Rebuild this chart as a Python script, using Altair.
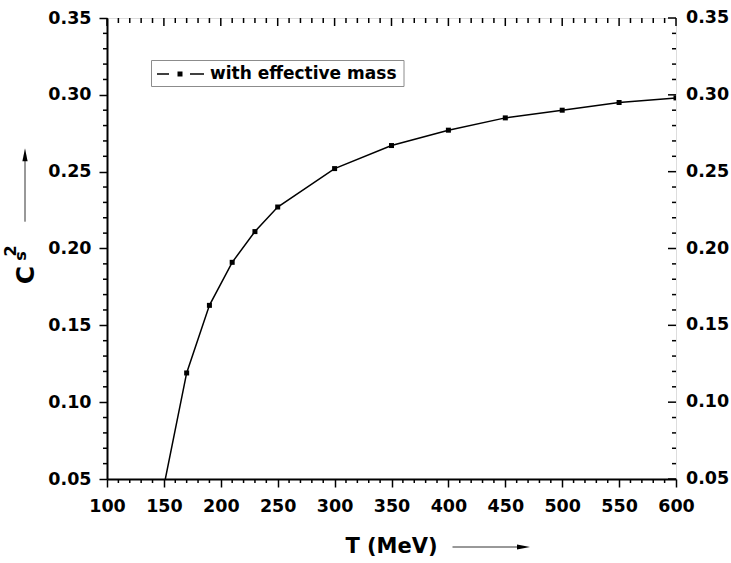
import altair as alt
import pandas as pd

# ---- data ----
T = [150, 170, 190, 210, 230, 250, 300, 350, 400, 450, 500, 550, 600]
cs2 = [0.0454, 0.119, 0.163, 0.191, 0.211, 0.227, 0.252, 0.267, 0.277, 0.285, 0.290, 0.295, 0.298]

x_major = [100, 150, 200, 250, 300, 350, 400, 450, 500, 550, 600]
x_minor = [v for v in range(110, 600, 10) if v % 50 != 0]
y_major = [0.05, 0.10, 0.15, 0.20, 0.25, 0.30, 0.35]
y_minor = [round(0.05 + 0.01 * i, 2) for i in range(1, 30) if i % 5 != 0]

legend_label = "with effective mass"
x_title = "T (MeV)"

W, H = 569, 461
FONT = "DejaVu Sans"

df = pd.DataFrame({"T": T, "cs2": cs2})
dxM = pd.DataFrame({"T": x_major})
dxm = pd.DataFrame({"T": x_minor})
dyM = pd.DataFrame({"cs2": y_major})
dym = pd.DataFrame({"cs2": y_minor})
one = pd.DataFrame({"a": [0]})

xs = alt.Scale(domain=[100, 600], nice=False, zero=False)
ys = alt.Scale(domain=[0.05, 0.35], nice=False, zero=False)

x_axis = alt.Axis(values=x_major, format="d", tickSize=8, tickWidth=1.5, tickColor="black",
                  domainWidth=2, domainColor="black", labelFont=FONT, labelFontWeight="bold",
                  labelFontSize=17.5, labelColor="black", labelPadding=10, labelFlush=False,
                  labelOverlap=False, grid=False, title=None)
y_axis = alt.Axis(values=y_major, format=".2f", tickSize=8, tickWidth=1.5, tickColor="black",
                  domainWidth=2, domainColor="black", labelFont=FONT, labelFontWeight="bold",
                  labelFontSize=17.5, labelColor="black", labelPadding=8, labelFlush=False,
                  labelOverlap=False, grid=False, title=None)

X = lambda: alt.X("T:Q", scale=xs, axis=x_axis)
Y = lambda: alt.Y("cs2:Q", scale=ys, axis=y_axis)

line = alt.Chart(df).mark_line(color="black", strokeWidth=1.5, clip=True).encode(x=X(), y=Y())
pts = alt.Chart(df).mark_point(shape="square", filled=True, color="black", size=25,
                               opacity=1, clip=True).encode(x=X(), y=Y())

def xrule(d, y0, y1):
    return alt.Chart(d).mark_rule(color="black", strokeWidth=1.5).encode(
        x=X(), y=alt.value(y0), y2=alt.value(y1))

def yrule(d, x0, x1):
    return alt.Chart(d).mark_rule(color="black", strokeWidth=1.5).encode(
        y=Y(), x=alt.value(x0), x2=alt.value(x1))

ticks = [
    xrule(dxm, H, H + 4),      # bottom minor (outward)
    xrule(dxM, 0, 8),          # top major (inward)
    xrule(dxm, 0, 5),          # top minor (inward)
    yrule(dym, -4, 0),         # left minor (outward)
    yrule(dyM, W - 8, W),      # right major (inward)
    yrule(dym, W - 4, W),      # right minor (inward)
]

right_labels = alt.Chart(dyM).mark_text(font=FONT, fontWeight="bold", fontSize=17.5,
                                        align="left", baseline="middle", color="black").encode(
    y=Y(), x=alt.value(W + 10), text=alt.Text("cs2:Q", format=".2f"))

# legend box
leg_box = alt.Chart(one).mark_rect(fill="white", stroke="#8c8c8c", strokeWidth=1).encode(
    x=alt.value(44.5), x2=alt.value(297), y=alt.value(42.5), y2=alt.value(68.5))
leg_l1 = alt.Chart(one).mark_rule(color="black", strokeWidth=1.5).encode(
    x=alt.value(50), x2=alt.value(62), y=alt.value(56))
leg_l2 = alt.Chart(one).mark_rule(color="black", strokeWidth=1.5).encode(
    x=alt.value(83), x2=alt.value(97), y=alt.value(56))
leg_pt = alt.Chart(one).mark_point(shape="square", filled=True, color="black", size=25,
                                   opacity=1).encode(x=alt.value(73), y=alt.value(56))
leg_txt = alt.Chart(one).mark_text(text=legend_label, font=FONT, fontWeight="bold", fontSize=17,
                                   align="left", baseline="middle", color="black").encode(
    x=alt.value(103), y=alt.value(56))

# x title and arrow
xt = alt.Chart(one).mark_text(text=x_title, font=FONT, fontWeight="bold", fontSize=21,
                              align="center", baseline="middle", color="black").encode(
    x=alt.value(284.5), y=alt.value(529))
xa_line = alt.Chart(one).mark_rule(color="#333333", strokeWidth=1).encode(
    x=alt.value(345.5), x2=alt.value(412), y=alt.value(529))
xa_head = alt.Chart(one).mark_point(shape="M-1,-0.4L1,0L-1,0.4Z", filled=True, color="black",
                                    size=169, opacity=1).encode(x=alt.value(416.5), y=alt.value(529))

# y title (C_s^2) and arrow
yt_C = alt.Chart(one).mark_text(text="C", font=FONT, fontWeight="bold", fontSize=25, angle=270,
                                align="center", baseline="middle", color="black").encode(
    x=alt.value(-81), y=alt.value(257))
yt_s = alt.Chart(one).mark_text(text="s", font=FONT, fontWeight="bold", fontSize=16, angle=270,
                                align="center", baseline="middle", color="black").encode(
    x=alt.value(-86.5), y=alt.value(238))
yt_2 = alt.Chart(one).mark_text(text="2", font=FONT, fontWeight="bold", fontSize=16, angle=270,
                                align="center", baseline="middle", color="black").encode(
    x=alt.value(-96.5), y=alt.value(233))
ya_line = alt.Chart(one).mark_rule(color="#333333", strokeWidth=1).encode(
    x=alt.value(-82), y=alt.value(203.7), y2=alt.value(138))
ya_head = alt.Chart(one).mark_point(shape="M-0.4,1L0,-1L0.4,1Z", filled=True, color="black",
                                    size=169, opacity=1).encode(x=alt.value(-82), y=alt.value(136.8))

chart = alt.layer(
    line, pts, *ticks, right_labels, leg_box, leg_l1, leg_l2, leg_pt, leg_txt,
    xt, xa_line, xa_head, yt_C, yt_s, yt_2, ya_line, ya_head,
).properties(
    width=W, height=H,
    autosize=alt.AutoSizeParams(type="none"),
    padding={"left": 107, "top": 18, "right": 55, "bottom": 84},
).configure_view(stroke="black", strokeWidth=2).configure(background="white")

chart.save("out.html", embed_options={"renderer": "svg", "actions": False})
